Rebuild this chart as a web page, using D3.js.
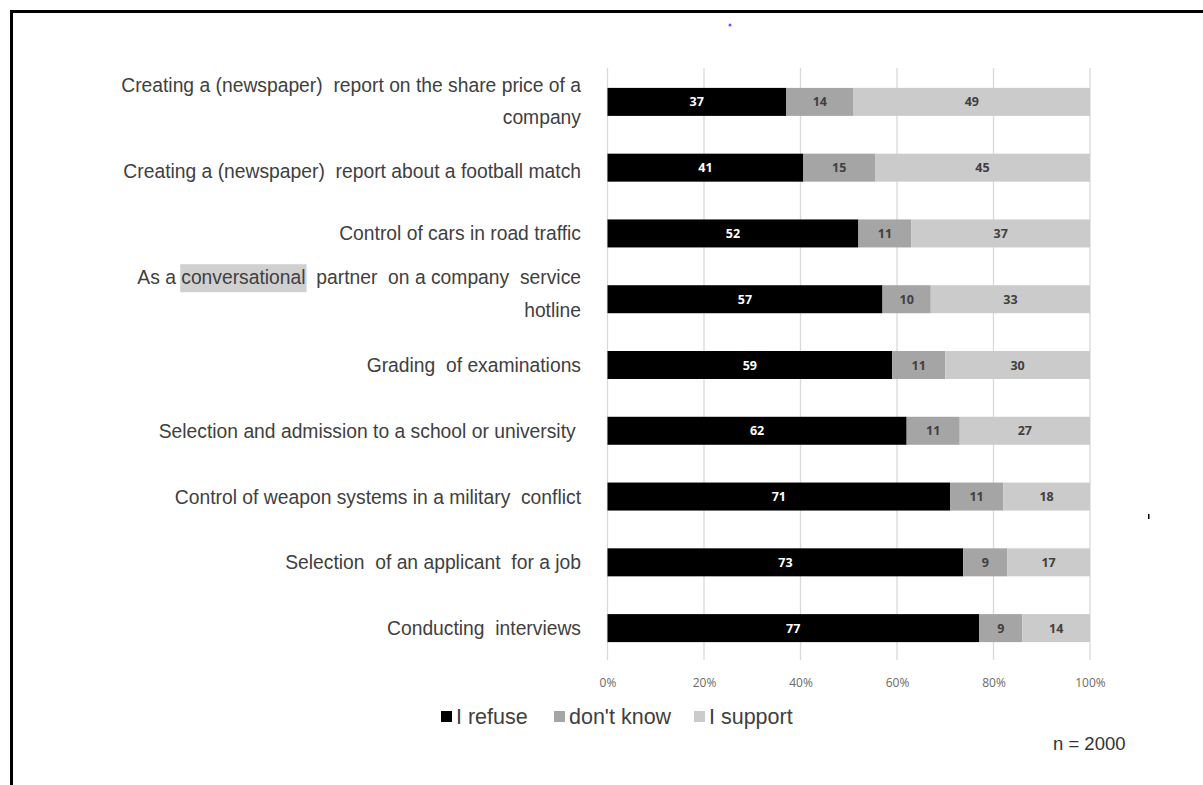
<!DOCTYPE html>
<html><head><meta charset="utf-8">
<script src="https://cdn.jsdelivr.net/npm/d3@7"></script>
<style>
html,body{margin:0;padding:0;background:#fff;overflow:hidden;}
svg{display:block;}
</style></head>
<body>
<svg id="c" width="1203" height="785"></svg>
<script>
const categories = [
  ["Creating a (newspaper)  report on the share price of a", "company"],
  ["Creating a (newspaper)  report about a football match"],
  ["Control of cars in road traffic"],
  ["As a conversational  partner  on a company  service", "hotline"],
  ["Grading  of examinations"],
  ["Selection and admission to a school or university "],
  ["Control of weapon systems in a military  conflict"],
  ["Selection  of an applicant  for a job"],
  ["Conducting  interviews"]
];
const highlightWord = "conversational";
const seriesNames = ["I refuse", "don't know", "I support"];
const refuse = [37, 41, 52, 57, 59, 62, 71, 73, 77];
const dontKnow = [14, 15, 11, 10, 11, 11, 11, 9, 9];
const support = [49, 45, 37, 33, 30, 27, 18, 17, 14];
const tickValues = [0, 0.2, 0.4, 0.6, 0.8, 1.0];
const colors = ["#000000", "#a5a5a5", "#cbcbcb"];
const labelColors = ["#ffffff", "#404040", "#404040"];

const svg = d3.select("#c");
const font = "'Liberation Sans', Arial, sans-serif";

// frame
svg.append("path").attr("d","M11.5,785 L11.5,11.5 L1203,11.5")
  .attr("fill","none").attr("stroke","#000").attr("stroke-width",3);

const x = d3.scaleLinear().domain([0,1]).range([607.5,1090]);
const idx = d3.range(categories.length);
const y = d3.scaleBand().domain(idx).range([69,661]).padding(0);
const barH = 28;

// gridlines
svg.append("g").selectAll("line").data(tickValues).join("line")
  .attr("x1",d=>x(d)).attr("x2",d=>x(d)).attr("y1",68).attr("y2",660)
  .attr("stroke","#d9d9d9").attr("stroke-width",1.3);

// axis tick labels
const axis = d3.axisBottom(x).tickValues(tickValues).tickFormat(d3.format(".0%")).tickSize(0).tickPadding(0);
const ag = svg.append("g").attr("transform","translate(0,678)").call(axis);
ag.select(".domain").remove();
ag.selectAll("text").attr("font-family","'Open Sans', sans-serif").attr("font-size",12).attr("fill","#6a6a6a");

// stacked data
const rows = idx.map(i => {
  const vals = [refuse[i], dontKnow[i], support[i]];
  const tot = d3.sum(vals);
  let acc = 0;
  return vals.map((v,s) => { const o = {i, s, v, x0: acc/tot, x1: (acc+v)/tot}; acc += v; return o; });
});
const segs = rows.flat();

svg.append("g").selectAll("rect").data(segs).join("rect")
  .attr("x",d=>x(d.x0)).attr("width",d=>x(d.x1)-x(d.x0))
  .attr("y",d=>y(d.i)+y.bandwidth()/2-barH/2).attr("height",barH)
  .attr("fill",d=>colors[d.s]);

svg.append("g").selectAll("text").data(segs).join("text")
  .attr("x",d=>(x(d.x0)+x(d.x1))/2).attr("y",d=>y(d.i)+y.bandwidth()/2+4.5)
  .attr("text-anchor","middle").attr("font-family","'Open Sans', sans-serif")
  .attr("font-weight","bold").attr("font-size",12.5).attr("fill",d=>labelColors[d.s])
  .text(d=>d.v);

// category labels
const hlLayer = svg.append("g");
const lg = svg.append("g");
idx.forEach(i => {
  const lines = categories[i];
  const cy = y(i)+y.bandwidth()/2;
  let offs;
  if (lines.length===1) offs=[cy+7+ (i===1?3:0)];
  else if (i===3) offs=[cy-15, cy+18];
  else offs=[cy-10, cy+22];
  lines.forEach((ln,k) => {
    const t = lg.append("text").attr("x",581).attr("y",offs[k]).attr("text-anchor","end")
      .attr("font-family",font).attr("font-size",19.3).attr("fill","#404040")
      .attr("xml:space","preserve").style("white-space","pre")
      .text(ln);
    const p = ln.indexOf(highlightWord);
    if (p >= 0) {
      const node = t.node();
      const s = node.getStartPositionOfChar(p).x;
      const e = node.getEndPositionOfChar(p + highlightWord.length - 1).x;
      hlLayer.append("rect").attr("x",s-1).attr("y",offs[k]-20).attr("width",e-s+2).attr("height",28).attr("fill","#d0d0d0");
    }
  });
});

// legend
const legX = [441, 554, 694];
const leg = svg.append("g");
seriesNames.forEach((n,s) => {
  leg.append("rect").attr("x",legX[s]).attr("y",711).attr("width",11).attr("height",11).attr("fill",colors[s]);
  leg.append("text").attr("x",legX[s]+15).attr("y",724).attr("font-family",font)
    .attr("font-size",21.5).attr("fill","#404040").text(n);
});

// note
svg.append("text").attr("x",1053).attr("y",750).attr("font-family",font).attr("font-size",18.5)
  .attr("fill","#333").text("n = 2000");

// tiny artifacts
svg.append("circle").attr("cx",730).attr("cy",25).attr("r",1.5).attr("fill","#5a5aff");
svg.append("rect").attr("x",1148).attr("y",514).attr("width",1.5).attr("height",5).attr("fill","#000");
</script>
</body></html>
